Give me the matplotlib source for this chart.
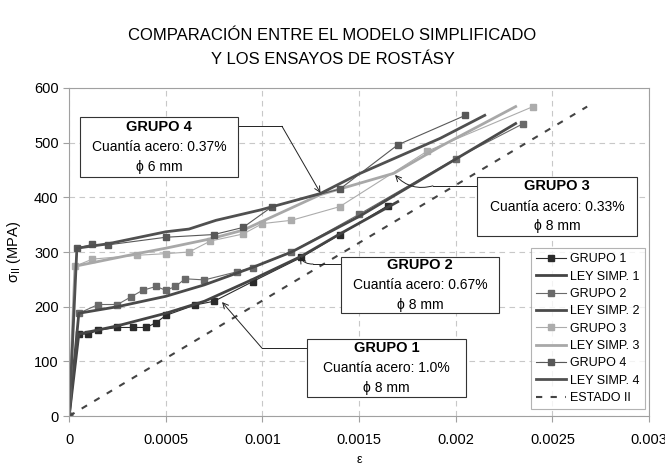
import numpy as np
import matplotlib.pyplot as plt
from matplotlib.patches import Rectangle

plt.rcParams['font.family'] = ['Liberation Sans', 'DejaVu Sans']

# Ensayos (deformación, tensión en MPa)
g1_eps = [0, 0.00005, 0.0001, 0.00015, 0.00025, 0.00033, 0.0004, 0.00045, 0.0005,
          0.00065, 0.00075, 0.00095, 0.0012, 0.0014, 0.00165]
g1_sig = [0, 150, 150, 157, 162, 162, 162, 171, 184, 203, 210, 246, 290, 332, 385]

g2_eps = [0, 0.00005, 0.00015, 0.00025, 0.00032, 0.00038, 0.00045, 0.0005, 0.00055,
          0.0006, 0.0007, 0.00087, 0.00095, 0.00115, 0.0015, 0.002, 0.00235]
g2_sig = [0, 188, 204, 204, 218, 230, 237, 230, 237, 251, 249, 264, 271, 300, 369, 471, 535]

g3_eps = [0, 0.00003, 0.00012, 0.00035, 0.0005, 0.00062, 0.00073, 0.0009, 0.001,
          0.00115, 0.0014, 0.00185, 0.0024]
g3_sig = [0, 274, 287, 294, 297, 300, 320, 333, 352, 358, 383, 484, 566]

g4_eps = [0, 0.00004, 0.00012, 0.0002, 0.0005, 0.00075, 0.0009, 0.00105, 0.0014,
          0.0017, 0.00205]
g4_sig = [0, 307, 314, 313, 327, 332, 345, 383, 415, 496, 550]

# Ley simplificada
l1_eps = [0, 0.00005, 0.00025, 0.0005, 0.0007, 0.00095, 0.0012, 0.0014, 0.0017]
l1_sig = [0, 150, 165, 188, 210, 250, 292, 333, 392]

l2_eps = [0, 0.00005, 0.00025, 0.0005, 0.0007, 0.00095, 0.00115, 0.0015, 0.002, 0.00231]
l2_sig = [0, 188, 200, 219, 240, 272, 300, 365, 470, 535]

l3_eps = [0, 0.00003, 0.00035, 0.0005, 0.00073, 0.0009, 0.0013, 0.00168, 0.00192, 0.00231]
l3_sig = [0, 274, 297, 307, 324, 340, 405, 444, 493, 566]

l4_eps = [0, 0.00004, 0.0002, 0.0005, 0.00062, 0.00076, 0.00099, 0.0013, 0.0015, 0.00192, 0.00215]
l4_sig = [0, 307, 315, 337, 342, 358, 377, 407, 443, 508, 550]

# Estado II
e2_eps = [0, 0.00268]
e2_sig = [0, 566]

grupos = ['GRUPO 1', 'GRUPO 2', 'GRUPO 3', 'GRUPO 4']
cuantias = ['1.0%', '0.67%', '0.33%', '0.37%']
diametros = ['8', '8', '8', '6']

fig = plt.figure(figsize=(6.65, 4.68), dpi=100)
ax = fig.add_axes([0.104, 0.111, 0.872, 0.701])

ax.plot(g1_eps, g1_sig, '-s', color='#2b2b2b', lw=0.8, ms=4.5, label='GRUPO 1')
ax.plot(l1_eps, l1_sig, '-', color='#444444', lw=2, label='LEY SIMP. 1')
ax.plot(g2_eps, g2_sig, '-s', color='#6a6a6a', lw=0.8, ms=4.5, label='GRUPO 2')
ax.plot(l2_eps, l2_sig, '-', color='#4a4a4a', lw=2, label='LEY SIMP. 2')
ax.plot(g3_eps, g3_sig, '-s', color='#acacac', lw=0.8, ms=4.5, label='GRUPO 3')
ax.plot(l3_eps, l3_sig, '-', color='#a8a8a8', lw=2, label='LEY SIMP. 3')
ax.plot(g4_eps, g4_sig, '-s', color='#585858', lw=0.8, ms=4.5, label='GRUPO 4')
ax.plot(l4_eps, l4_sig, '-', color='#505050', lw=2, label='LEY SIMP. 4')
ax.plot(e2_eps, e2_sig, '--', color='#444444', lw=1.5, dashes=(3, 4), label='ESTADO II')

ax.set_xlim(0, 0.003)
ax.set_ylim(0, 600)
ax.set_xticks([0, 0.0005, 0.001, 0.0015, 0.002, 0.0025, 0.003])
ax.set_xticklabels(['0', '0.0005', '0.001', '0.0015', '0.002', '0.0025', '0.003'])
ax.set_yticks(range(0, 601, 100))
ax.grid(True, color='#c8c8c8', linestyle=(0, (5, 4)), lw=0.8)
ax.set_axisbelow(True)
for s in ax.spines.values():
    s.set_color('#a0a0a0')
ax.tick_params(colors='#a0a0a0', labelcolor='black', labelsize=10.5, length=4)
ax.tick_params(axis='x', pad=8)

ax.set_xlabel('ε', fontsize=9, labelpad=5)
ax.set_ylabel('σ$_{\\mathrm{II}}$ (MPA)', fontsize=10.5, labelpad=8)

fig.text(0.5, 0.94, 'COMPARACIÓN ENTRE EL MODELO SIMPLIFICADO\nY LOS ENSAYOS DE ROSTÁSY',
         ha='center', va='top', fontsize=12, linespacing=1.75)

leg = ax.legend(loc='lower right', bbox_to_anchor=(0.993, 0.021), fontsize=9, frameon=True,
                fancybox=False, edgecolor='#a0a0a0', handlelength=2.4, handletextpad=0.35,
                labelspacing=0.43, borderpad=0.4, borderaxespad=0)
leg.get_frame().set_linewidth(0.8)


def nota(i, x0, x1, y0, y1, camino, cabeza, rad):
    # recuadro con el texto del grupo
    ax.add_patch(Rectangle((x0, y0), x1 - x0, y1 - y0, fc='white', ec='#333333',
                           lw=0.8, zorder=5))
    xc, yc = (x0 + x1) / 2, (y0 + y1) / 2
    ax.text(xc, yc + 37, grupos[i], ha='center', va='center', fontsize=10.5,
            fontweight='bold', zorder=6)
    ax.text(xc, yc, 'Cuantía acero: ' + cuantias[i], ha='center', va='center',
            fontsize=10, zorder=6)
    ax.text(xc, yc - 36, 'ϕ ' + diametros[i] + ' mm', ha='center', va='center',
            fontsize=10, zorder=6)
    # flecha hacia la curva
    ax.plot([p[0] for p in camino], [p[1] for p in camino], color='#222222', lw=0.7, zorder=4)
    ax.annotate('', xy=cabeza, xytext=camino[-1],
                arrowprops=dict(arrowstyle='->', color='#222222', lw=0.7,
                                connectionstyle='arc3,rad=%s' % rad,
                                shrinkA=0, shrinkB=0), zorder=4)


nota(3, 0.0000569, 0.000874, 437, 547, [(0.000874, 530), (0.001101, 530)], (0.0013, 408), 0)
nota(2, 0.00211, 0.002937, 329, 437, [(0.00211, 421), (0.001882, 421)], (0.001686, 441), -0.3)
nota(1, 0.001406, 0.002223, 188, 291, [(0.001406, 278), (0.001262, 278)], (0.001194, 291), -0.3)
nota(0, 0.001231, 0.002053, 35, 141, [(0.001231, 124), (0.000998, 124)], (0.000791, 208.5), 0)

fig.savefig('out.png', dpi=100)
